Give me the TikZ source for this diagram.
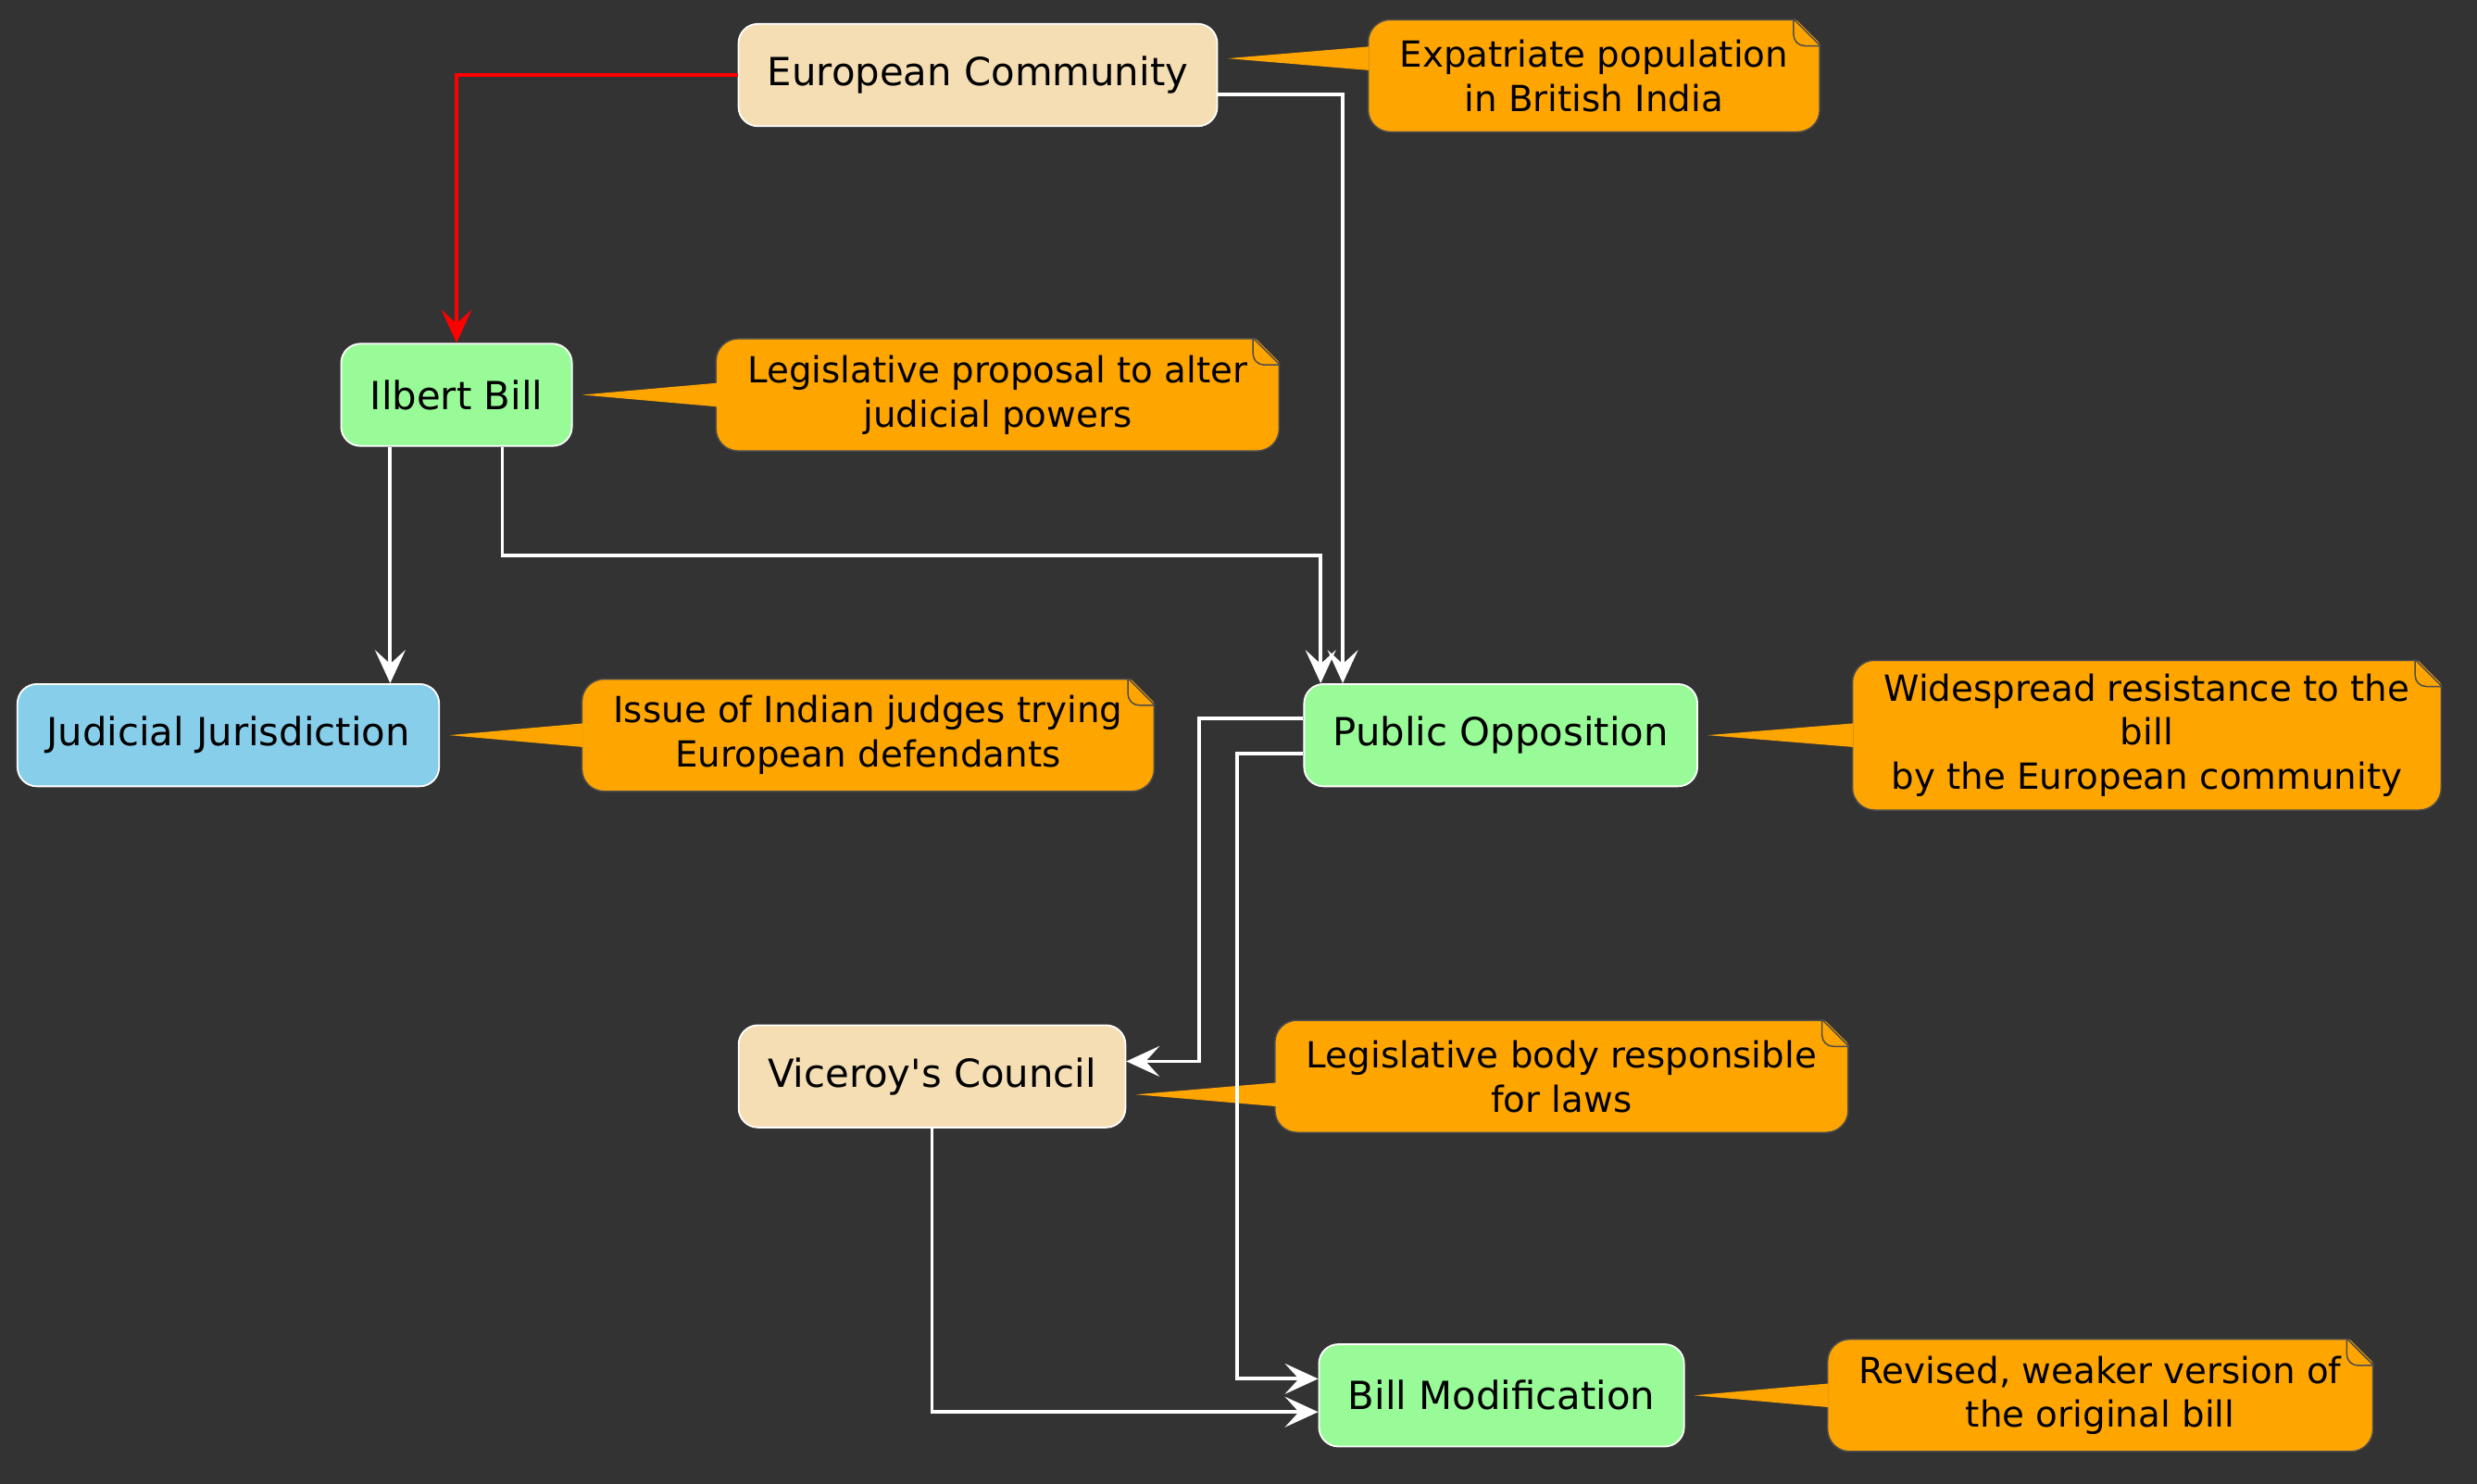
\documentclass[tikz,border=0pt]{standalone}
\usepackage{fontspec}
\setmainfont{DejaVu Sans}
\usetikzlibrary{arrows.meta,calc}
\definecolor{bgdark}{HTML}{333333}
\definecolor{wheat}{HTML}{F5DEB3}
\definecolor{palegreen}{HTML}{98FB98}
\definecolor{skyblue}{HTML}{87CEEB}
\definecolor{memofill}{HTML}{FFA500}
\definecolor{memoline}{HTML}{4D4D4D}
\tikzset{
  entity/.style={draw=white, line width=0.6pt, rounded corners=7pt, inner xsep=10.5pt,
    minimum height=37pt, text=black, font=\fontsize{14}{16}\selectfont},
  memo/.style={fill=memofill, draw=memoline, line width=0.5pt, rounded corners=8pt, align=center,
    inner xsep=11.4pt, inner ysep=4.8pt, minimum height=40.6pt, text=black, font=\fontsize{13}{16}\selectfont},
  link/.style={draw=white, line width=1.3pt, -{Stealth[length=12pt,width=11pt,inset=5pt]}},
}
% folded corner of a note
\newcommand{\notecorner}[1]{%
  \fill[bgdark] ($(#1.north east)+(-17,-1.5)$) -- ($(#1.north east)+(1.5,-1.5)$) -- ($(#1.north east)+(1.5,17)$) -- cycle;
  \draw[memoline, line width=0.5pt] ($(#1.north east)+(-17,0)$) -- ($(#1.north east)+(0,17)$);
  \draw[memoline, line width=0.5pt, rounded corners=4pt] ($(#1.north east)+(-17,0)$) -- ($(#1.north east)+(-17,17)$) -- ($(#1.north east)+(0,17)$);
}
% pointer of a note towards its node
\newcommand{\notetail}[3]{%
  \coordinate (tip) at ($(#2.east)+(6,#3)$);
  \fill[memofill] ($(#1.west |- tip)+(1,-7.5)$) -- (tip) -- ($(#1.west |- tip)+(1,7.5)$) -- cycle;
}
\begin{document}
\begin{tikzpicture}[x=0.5714pt,y=-0.5714pt]
  \useasboundingbox (0,0) rectangle (1568,939.6);
  \fill[bgdark] (0,0) rectangle (1568,939.6);
  % nodes
  \node[entity,fill=wheat] (ec) at (619,47.5) {European Community};
  \node[entity,fill=palegreen] (ib) at (289,250) {Ilbert Bill};
  \node[entity,fill=skyblue] (jj) at (144.5,465.5) {Judicial Jurisdiction};
  \node[entity,fill=palegreen] (po) at (950,465.5) {Public Opposition};
  \node[entity,fill=wheat] (vc) at (590,681.5) {Viceroy\textquotesingle s Council};
  \node[entity,fill=palegreen] (bm) at (950.5,883.5) {Bill Modification};
  % notes
  \node[memo] (n1) at (1009,48) {Expatriate population\\in British India};
  \node[memo] (n2) at (631.5,250) {Legislative proposal to alter\\judicial powers};
  \node[memo] (n3) at (549.5,465.5) {Issue of Indian judges trying\\European defendants};
  \node[memo] (n4) at (1359,465.5) {Widespread resistance to the\\bill\\by the European community};
  \node[memo] (n5) at (988.5,681.5) {Legislative body responsible\\for laws};
  \node[memo] (n6) at (1329.5,883.5) {Revised, weaker version of\\the original bill};
  \notecorner{n1} \notetail{n1}{ec}{-10.5}
  \notecorner{n2} \notetail{n2}{ib}{0}
  \notecorner{n3} \notetail{n3}{jj}{0}
  \notecorner{n4} \notetail{n4}{po}{0}
  \notecorner{n5} \notetail{n5}{vc}{11.5}
  \notecorner{n6} \notetail{n6}{bm}{0}
  % connectors
  \draw[link,draw=red] (ec.west) -| (ib.north);
  \draw[link] ($(ec.east)+(0,12.5)$) -| ($(po.north)+(-100,0)$);
  \coordinate (ibl) at ($(ib.south)+(-42,0)$);
  \draw[link] (ibl) -- (ibl |- jj.north);
  \draw[link] ($(ib.south)+(29,0)$) -- ++(0,69) -| ($(po.north)+(-114,0)$);
  \draw[link] ($(po.west)+(0,-10.5)$) -- ++(-66,0) |- ($(vc.east)+(0,-9.5)$);
  \draw[link] ($(po.west)+(0,11.5)$) -- ++(-42,0) |- ($(bm.west)+(0,-10.5)$);
  \draw[link] (vc.south) |- ($(bm.west)+(0,10.5)$);
\end{tikzpicture}
\end{document}
